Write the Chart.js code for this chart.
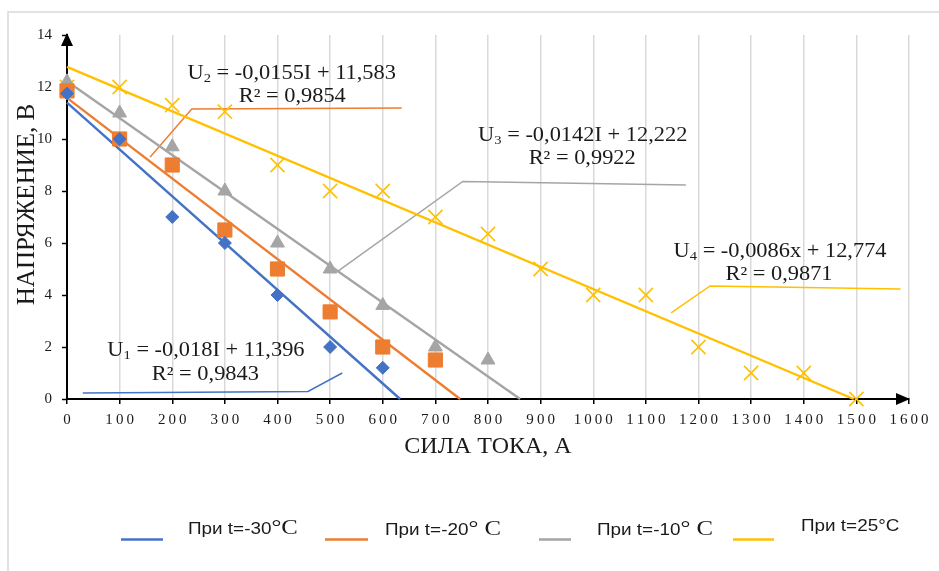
<!DOCTYPE html>
<html>
<head>
<meta charset="utf-8">
<script src="https://cdn.jsdelivr.net/npm/chart.js@4.4.0/dist/chart.umd.min.js"></script>
<style>
html,body{margin:0;padding:0;background:#fff;}
#wrap{width:939px;height:571px;position:relative;}
</style>
</head>
<body>
<div id="wrap"><canvas id="c"></canvas></div>
<script>
// ---- data ----
const currentA = [0,100,200,300,400,500,600,700,800,900,1000,1100,1200,1300,1400,1500];
const uMinus30 = [11.75,10,7,6,4,2,1.2];
const uMinus20 = [11.85,10,9,6.5,5,3.35,2,1.5];
const uMinus10 = [12.2,11,9.7,8,6,5,3.6,2,1.5];
const uPlus25  = [12,12,11.3,11.05,9,8,8,7,6.35,5,4,4,2,1,1,0];

// trend line end points (I, U)
const trendMinus30 = [[0,11.4],[633,0]];
const trendMinus20 = [[0,11.58],[747,0]];
const trendMinus10 = [[0,12.22],[861,0]];
const trendPlus25  = [[0,12.77],[1495,0]];

const seriesNames = ['При t=-30°C','При t=-20° C','При t=-10° C','При t=25°C'];
const xTickValues = [0,100,200,300,400,500,600,700,800,900,1000,1100,1200,1300,1400,1500,1600];
const yTickValues = [0,2,4,6,8,10,12,14];

const eqSub   = ['1','2','3','4'];
const eqRest  = [' = -0,018I + 11,396',' = -0,0155I + 11,583',' = -0,0142I + 12,222',' = -0,0086x + 12,774'];
const eqR2    = ['R² = 0,9843','R² = 0,9854','R² = 0,9922','R² = 0,9871'];

// ---- styling / placement (not data) ----
const colors = ['#4472C4','#ED7D31','#A5A5A5','#FFC000'];
const eqPos  = [[264,1.92],[427,12.59],[980,10.19],[1355,5.73]];   // line 1 centres (data coords)
const r2Pos  = [[263,1.0],[428,11.69],[979,9.31],[1353,4.86]];     // line 2 centres (data coords)
const leaderPaths = [
  [[30,0.23],[458,0.29],[523,1.0]],
  [[158,9.31],[237,11.15],[636,11.19]],
  [[515,4.92],[752,8.37],[1176,8.23]],
  [[1148,3.31],[1222,4.35],[1584,4.23]]
];

const pts = arr => arr.map((v,i)=>({x:currentA[i], y:v}));
const pairs = arr => arr.map(p=>({x:p[0], y:p[1]}));

const markerStyles = [
  {pointStyle:'rectRot', radius:6.5},
  {pointStyle:'rect', radius:10},
  {pointStyle:'triangle', radius:8},
  {pointStyle:'crossRot', radius:10}
];

const scatterSets = [uMinus30,uMinus20,uMinus10,uPlus25].map((arr,i)=>({
  type:'scatter',
  label:seriesNames[i],
  data:pts(arr),
  showLine:false,
  pointStyle:markerStyles[i].pointStyle,
  pointRadius:markerStyles[i].radius,
  pointHoverRadius:markerStyles[i].radius,
  backgroundColor:colors[i],
  borderColor:colors[i],
  pointBorderWidth: i===3 ? 1.6 : 1,
  clip:false
}));

const trendSets = [trendMinus30,trendMinus20,trendMinus10,trendPlus25].map((arr,i)=>({
  type:'line',
  label:'trend '+i,
  data:pairs(arr),
  borderColor:colors[i],
  borderWidth:2.4,
  pointRadius:0,
  fill:false,
  tension:0,
  clip:false
}));

const leaderSets = leaderPaths.map((arr,i)=>({
  type:'line',
  label:'leader '+i,
  data:pairs(arr),
  borderColor:colors[i],
  borderWidth:1.5,
  pointRadius:0,
  fill:false,
  tension:0,
  clip:false
}));

function drawRich(ctx, segs, x, cy, sx, align){
  let total = 0;
  segs.forEach(s=>{ctx.font=s.font; s.w=ctx.measureText(s.t).width; total+=s.w;});
  ctx.save();
  ctx.translate(x, cy);
  ctx.scale(sx,1);
  let cx = align==='left' ? 0 : -total/2;
  ctx.textBaseline='alphabetic';
  ctx.textAlign='left';
  segs.forEach(s=>{
    ctx.font=s.font;
    ctx.fillStyle=s.color||'#1a1a1a';
    ctx.fillText(s.t, cx, (s.base||7) + (s.dy||0));
    cx += s.w;
  });
  ctx.restore();
}

const serif = 'Liberation Serif';
const sans = 'Liberation Sans';

const deco = {
  id:'deco',
  beforeDraw(chart){
    const ctx = chart.ctx;
    ctx.save();
    ctx.strokeStyle='#D9D9D9';
    ctx.lineWidth=1.5;
    ctx.beginPath();
    ctx.moveTo(8,571); ctx.lineTo(8,12); ctx.lineTo(939,12);
    ctx.stroke();
    ctx.restore();
  },
  afterDraw(chart){
    const ctx = chart.ctx;
    const xs = chart.scales.x, ys = chart.scales.y;
    const x0 = xs.getPixelForValue(0), y0 = ys.getPixelForValue(0);
    const yTop = ys.getPixelForValue(14), xEnd = xs.getPixelForValue(1600);
    ctx.save();
    ctx.fillStyle='#000';
    ctx.beginPath();
    ctx.moveTo(x0, yTop-2); ctx.lineTo(x0-6, yTop+11); ctx.lineTo(x0+6, yTop+11); ctx.closePath(); ctx.fill();
    ctx.beginPath();
    ctx.moveTo(xEnd+1, y0); ctx.lineTo(xEnd-13, y0-6); ctx.lineTo(xEnd-13, y0+6); ctx.closePath(); ctx.fill();
    ctx.restore();

    for(let i=0;i<4;i++){
      const px = xs.getPixelForValue(eqPos[i][0]), py = ys.getPixelForValue(eqPos[i][1]);
      drawRich(ctx,[
        {t:'U', font:'20px "'+serif+'"'},
        {t:eqSub[i], font:'13px "'+serif+'"', dy:3},
        {t:eqRest[i], font:'20px "'+serif+'"'}
      ], px, py, 1.12, 'center');
      const rx = xs.getPixelForValue(r2Pos[i][0]), ry = ys.getPixelForValue(r2Pos[i][1]);
      drawRich(ctx,[{t:eqR2[i], font:'20px "'+serif+'"'}], rx, ry, 1.12, 'center');
    }

    const legendLines = [[121,163],[325,368],[539,571],[733,774]];
    const legendTextX = [188,385,597,801];
    const legendTextY = [528,529,529,525];
    const legendSegs = [
      [{t:'При t=-30', font:'16px "'+sans+'"', base:6},{t:'°C', font:'21px "'+serif+'"', base:6}],
      [{t:'При t=-20', font:'16px "'+sans+'"', base:6},{t:'° C', font:'21px "'+serif+'"', base:6}],
      [{t:'При t=-10', font:'16px "'+sans+'"', base:6},{t:'° C', font:'21px "'+serif+'"', base:6}],
      [{t:'При t=25°C', font:'16px "'+sans+'"', base:6}]
    ];
    for(let i=0;i<4;i++){
      ctx.save();
      ctx.strokeStyle=colors[i];
      ctx.lineWidth=2.5;
      ctx.beginPath();
      ctx.moveTo(legendLines[i][0],539.5); ctx.lineTo(legendLines[i][1],539.5);
      ctx.stroke();
      ctx.restore();
      drawRich(ctx, legendSegs[i], legendTextX[i], legendTextY[i], 1.18, 'left');
    }
  }
};

new Chart(document.getElementById('c'),{
  data:{datasets:[...scatterSets,...trendSets,...leaderSets]},
  options:{
    responsive:true,
    maintainAspectRatio:false,
    animation:false,
    layout:{padding:{left:0,top:35,right:30,bottom:110}},
    plugins:{legend:{display:false},tooltip:{enabled:false}},
    scales:{
      x:{
        type:'linear',
        min:0,max:1600,
        afterBuildTicks:s=>{s.ticks = xTickValues.map(v=>({value:v}));},
        afterFit:s=>{s.height=62;},
        ticks:{
          autoSkip:false,maxRotation:0,padding:7,
          color:'#1a1a1a',
          font:{family:serif,size:15},
          callback:v=>String(v).split('').join('\u2009')
        },
        grid:{color:'#D9D9D9',lineWidth:1.5,tickColor:'#000',tickLength:5,tickWidth:1.5,drawOnChartArea:true},
        border:{display:true,color:'#000',width:2},
        title:{display:true,text:'СИЛА ТОКА, А',color:'#1a1a1a',font:{family:serif,size:24},padding:{top:0,bottom:0}}
      },
      y:{
        type:'linear',
        min:0,max:14,
        afterBuildTicks:s=>{s.ticks = yTickValues.map(v=>({value:v}));},
        afterFit:s=>{s.width=67;},
        ticks:{padding:10,color:'#1a1a1a',font:{family:serif,size:15}},
        grid:{drawOnChartArea:false,color:'#000',tickColor:'#000',tickLength:5,tickWidth:1.5},
        border:{display:true,color:'#000',width:2},
        title:{display:true,text:'\u00A0\u00A0\u00A0\u00A0НАПРЯЖЕНИЕ, В',color:'#1a1a1a',font:{family:serif,size:25},padding:{top:12,bottom:0}}
      }
    }
  },
  plugins:[deco]
});
</script>
</body>
</html>
